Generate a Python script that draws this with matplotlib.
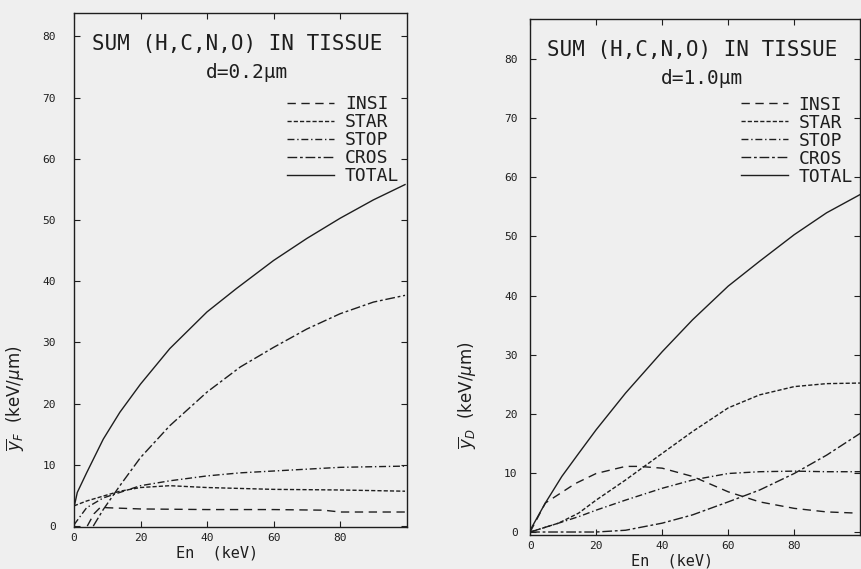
import matplotlib
matplotlib.use('Agg')
import matplotlib.pyplot as plt

# ---- data ----
# left panel: y_F, site diameter d = 0.2 um
f_total_x = [0, 1, 3.8, 8.8, 13.8, 20, 28.8, 40, 48.8, 60, 70, 80, 90, 99.5]
f_total_y = [3.0, 5.5, 8.7, 14.2, 18.6, 23.2, 29.0, 35.0, 38.8, 43.4, 47.0, 50.3, 53.3, 55.8]
f_cros_x = [5.8, 8.8, 13.8, 20, 28.8, 40, 50, 60, 70, 80, 90, 99.5]
f_cros_y = [0, 2.7, 6.6, 11.2, 16.4, 21.9, 26.0, 29.2, 32.2, 34.7, 36.6, 37.7]
f_star_x = [0, 3.8, 8.8, 13.8, 20, 28.8, 40, 60, 80, 99.5]
f_star_y = [3.3, 4.1, 4.9, 5.7, 6.3, 6.6, 6.3, 6.0, 5.9, 5.7]
f_stop_x = [0, 3.8, 8.8, 13.8, 20, 28.8, 40, 50, 60, 70, 80, 99.5]
f_stop_y = [0.2, 3.0, 4.6, 5.5, 6.6, 7.4, 8.2, 8.7, 9.0, 9.3, 9.6, 9.8]
f_insi_x = [4, 6, 8, 10, 20, 40, 60, 75, 80, 99.5]
f_insi_y = [0, 2.0, 3.1, 3.0, 2.8, 2.7, 2.7, 2.6, 2.3, 2.3]

# right panel: y_D, site diameter d = 1.0 um
d_total_x = [0, 4.6, 9.6, 14.7, 20, 28.9, 40, 49.2, 60, 69.5, 80, 89.8, 100]
d_total_y = [0.3, 4.9, 9.4, 13.3, 17.3, 23.5, 30.5, 35.9, 41.6, 45.8, 50.3, 54.0, 57.1]
d_star_x = [0, 8.6, 14.7, 20, 28.9, 40, 49.2, 60, 69.5, 80, 89.8, 100]
d_star_y = [0, 1.5, 3.2, 5.4, 8.8, 13.3, 17.0, 21.0, 23.2, 24.6, 25.1, 25.2]
d_stop_x = [0, 8.6, 14.7, 20, 28.9, 40, 49.2, 60, 69.5, 80, 89.8, 100]
d_stop_y = [0, 1.5, 2.6, 3.7, 5.4, 7.4, 8.8, 9.9, 10.2, 10.3, 10.2, 10.2]
d_cros_x = [0, 20, 28.9, 40, 49.2, 60, 69.5, 80, 89.8, 100]
d_cros_y = [0, 0, 0.3, 1.5, 2.9, 5.1, 7.1, 9.9, 13.0, 16.7]
d_insi_x = [0, 4.6, 13.7, 20, 28.9, 33, 40, 49.2, 60, 69.5, 80, 89.8, 98.9]
d_insi_y = [0, 4.9, 8.2, 9.9, 11.1, 11.1, 10.8, 9.4, 6.8, 5.1, 4.0, 3.4, 3.2]

labels = ['INSI', 'STAR', 'STOP', 'CROS', 'TOTAL']
styles = [(0, (6, 4)), (0, (3, 1.5)), (0, (5, 2, 1, 2)), (0, (7, 2, 2, 2)), '-']
ink = '#1e1e1e'
paper = '#efefef'

plt.rcParams['font.family'] = 'DejaVu Sans Mono'
plt.rcParams['mathtext.fontset'] = 'dejavusans'

fig = plt.figure(figsize=(8.62, 5.69), dpi=100, facecolor=paper)
ax1 = fig.add_axes([0.0858, 0.0738, 0.386, 0.903])
ax2 = fig.add_axes([0.615, 0.0598, 0.383, 0.907])

# (axes, curves, d text, y label, ylim, ylabel pos, y tick pad, legend top)
panels = [
    (ax1, [(f_insi_x, f_insi_y), (f_star_x, f_star_y), (f_stop_x, f_stop_y),
           (f_cros_x, f_cros_y), (f_total_x, f_total_y)],
     'd=0.2\u00b5m', r'$\overline{y}_F$  (keV/$\mu$m)', (-0.15, 83.8), (-0.14, 0.25), 13, 0.855),
    (ax2, [(d_insi_x, d_insi_y), (d_star_x, d_star_y), (d_stop_x, d_stop_y),
           (d_cros_x, d_cros_y), (d_total_x, d_total_y)],
     'd=1.0\u00b5m', r'$\overline{y}_D$  (keV/$\mu$m)', (-0.5, 86.8), (-0.155, 0.27), 9, 0.865),
]

for ax, series, dtext, ylab, ylim, ylabpos, ypad, legtop in panels:
    ax.set_facecolor(paper)
    for (x, y), lab, ls in zip(series, labels, styles):
        ax.plot(x, y, color=ink, lw=1.0, linestyle=ls, label=lab)
    ax.set_xlim(0, 100)
    ax.set_ylim(*ylim)
    ax.set_xticks([0, 20, 40, 60, 80])
    ax.set_yticks(range(0, 90, 10))
    ax.tick_params(direction='in', top=True, right=True, labelsize=8,
                   length=4, width=0.8, colors=ink)
    ax.tick_params(axis='x', pad=4)
    ax.tick_params(axis='y', pad=ypad)
    for s in ax.spines.values():
        s.set_linewidth(1.0)
        s.set_color(ink)
    ax.text(0.49, 0.94, 'SUM (H,C,N,O) IN TISSUE', transform=ax.transAxes,
            ha='center', va='center', fontsize=15, color=ink)
    ax.text(0.52, 0.885, dtext, transform=ax.transAxes,
            ha='center', va='center', fontsize=14, color=ink)
    ax.set_ylabel(ylab, fontsize=12, color=ink, family='DejaVu Sans')
    ax.yaxis.set_label_coords(*ylabpos)
    ax.set_xlabel('En  (keV)', fontsize=11, color=ink)
    ax.xaxis.set_label_coords(0.43, -0.036)
    ax.legend(loc='upper right', bbox_to_anchor=(1.0, legtop), frameon=False,
              fontsize=13, handlelength=2.6, handletextpad=0.6,
              labelspacing=0.0, borderaxespad=0.2, borderpad=0.2, labelcolor=ink)

fig.savefig('out.png', dpi=100, facecolor=paper)
